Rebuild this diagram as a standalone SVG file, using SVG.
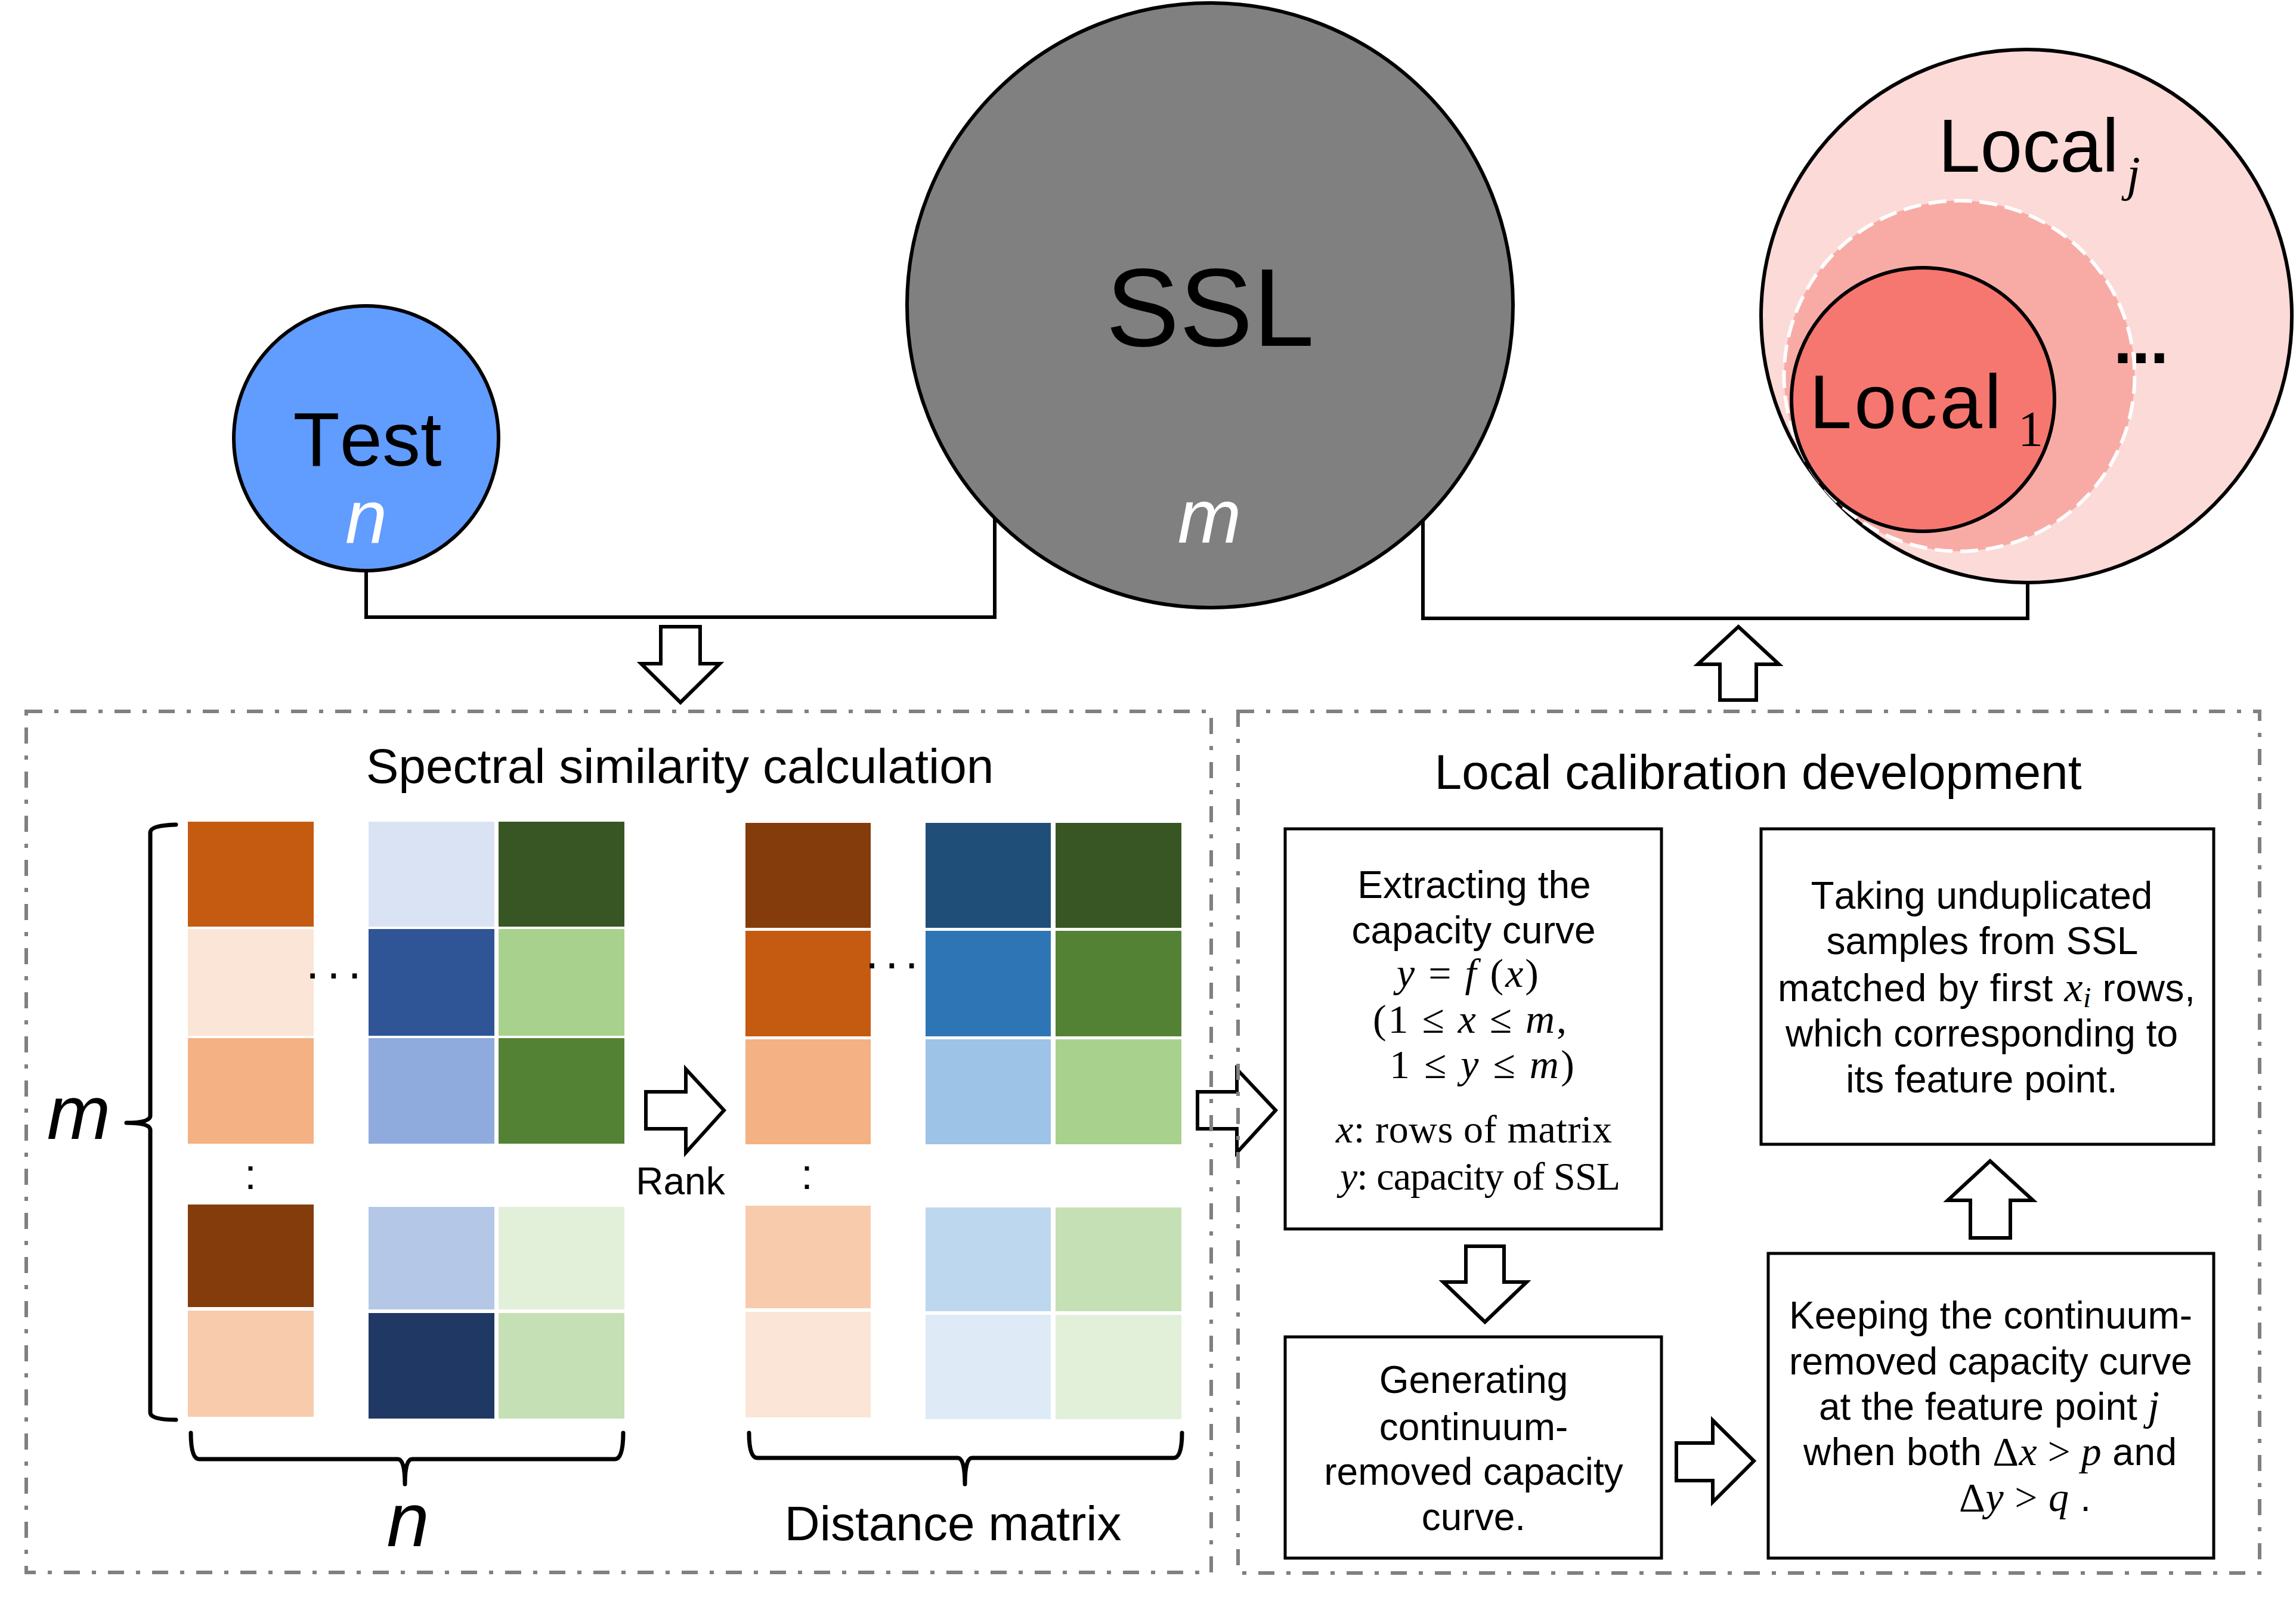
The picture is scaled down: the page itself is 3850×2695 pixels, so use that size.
<svg xmlns="http://www.w3.org/2000/svg" width="3850" height="2695" viewBox="0 0 3850 2695">
<style>
text{font-kerning:none}
.sans{font-family:"Liberation Sans",Arial,Helvetica,sans-serif;fill:#000}
.ser{font-family:"Liberation Serif","Times New Roman",serif;fill:#000}
.it{font-style:italic}
.c{text-anchor:middle}
.line{fill:none;stroke:#000;stroke-width:6}
.barrow{fill:#fff;stroke:#000;stroke-width:6;stroke-linejoin:miter}
.brace{fill:none;stroke:#000;stroke-width:7;stroke-linecap:round;stroke-linejoin:round}
.dbox{fill:none;stroke:#808080;stroke-width:6;stroke-dasharray:27 20 7 20}
.box{fill:#fff;stroke:#000;stroke-width:5}
.bt{font-size:64px}
</style>
<rect width="3850" height="2695" fill="#fff"/>

<g id="connectors">
<polyline class="line" points="614,955 614,1035 1668,1035 1668,860"/>
<polyline class="line" points="2386,860 2386,1037 3400,1037 3400,975"/>
<path class="barrow" d="M1108,1051 L1174,1051 L1174,1113 L1207,1113 L1141,1178 L1075,1113 L1108,1113 Z"/>
<path class="barrow" d="M2915,1051 L2983,1114 L2945,1114 L2945,1174 L2884,1174 L2884,1114 L2847,1114 Z"/>
<path class="barrow" d="M1083,1831 L1150,1831 L1150,1793 L1214,1862 L1150,1933 L1150,1893 L1083,1893 Z"/>
<path class="barrow" d="M2008,1831 L2074,1831 L2074,1793 L2139,1862 L2074,1933 L2074,1893 L2008,1893 Z"/>
<path class="barrow" d="M2458,2090 L2522,2090 L2522,2150 L2560,2150 L2490,2217 L2420,2150 L2458,2150 Z"/>
<path class="barrow" d="M2811,2420 L2872,2420 L2872,2382 L2941,2450 L2872,2519 L2872,2483 L2811,2483 Z"/>
<path class="barrow" d="M3337,1947 L3409,2013 L3371,2013 L3371,2076 L3304,2076 L3304,2013 L3266,2013 Z"/>
</g>

<g id="test">
<circle cx="614" cy="735" r="222" fill="#619CFF" stroke="#000" stroke-width="6"/>
<text class="sans c" x="616" y="781" font-size="128">Test</text>
<text class="sans c it" x="614" y="910" font-size="126" style="fill:#fff">n</text>
</g>

<g id="ssl">
<ellipse cx="2029" cy="512" rx="508" ry="507" fill="#808080" stroke="#000" stroke-width="6"/>
<text class="sans c" x="2029" y="580" font-size="185">SSL</text>
<text class="sans c it" x="2028" y="910" font-size="128" style="fill:#fff">m</text>
</g>

<g id="local">
<ellipse cx="3398" cy="530" rx="445" ry="447" fill="#FBDAD7" stroke="#000" stroke-width="6"/>
<circle cx="3285.5" cy="630.5" r="294" fill="#F8ABA5" stroke="#fff" stroke-width="6" stroke-dasharray="30 13"/>
<ellipse cx="3224.5" cy="670" rx="220.5" ry="221" fill="#F6776F" stroke="#000" stroke-width="6"/>
<text class="sans" x="3250" y="288" font-size="127" textLength="303">Local</text>
<text class="ser it" x="3566" y="319" font-size="82">j</text>
<text class="sans" x="3034" y="718" font-size="128" textLength="322">Local</text>
<text class="ser" x="3384" y="748" font-size="84">1</text>
<text class="sans" x="3544" y="609" font-size="112" font-weight="bold" letter-spacing="-0.5">...</text>
</g>

<g id="spectral">
<rect class="dbox" x="44" y="1193" width="1987" height="1444"/>
<text class="sans c" x="1140" y="1313" font-size="82">Spectral similarity calculation</text>
<path class="brace" d="M295,1383 Q252,1384 252,1396 L252,1871 Q252,1883 212,1883 Q252,1883 252,1895 L252,2369 Q252,2381 295,2381"/>
<text class="sans c it" x="132" y="1910" font-size="128">m</text>
<g id="matrix-left">
<rect x="315" y="1378" width="211" height="176" fill="#C55A11"/>
<rect x="315" y="1558" width="211" height="179" fill="#FBE5D6"/>
<rect x="315" y="1741" width="211" height="177" fill="#F4B183"/>
<rect x="315" y="2020" width="211" height="172" fill="#843C0C"/>
<rect x="315" y="2198" width="211" height="178" fill="#F8CBAD"/>
<rect x="618" y="1378" width="211" height="176" fill="#DAE3F3"/>
<rect x="618" y="1558" width="211" height="179" fill="#2F5597"/>
<rect x="618" y="1741" width="211" height="177" fill="#8FAADC"/>
<rect x="618" y="2024" width="211" height="172" fill="#B4C7E7"/>
<rect x="618" y="2202" width="211" height="177" fill="#203864"/>
<rect x="836" y="1378" width="211" height="176" fill="#375623"/>
<rect x="836" y="1558" width="211" height="179" fill="#A9D18E"/>
<rect x="836" y="1741" width="211" height="177" fill="#548235"/>
<rect x="836" y="2024" width="211" height="172" fill="#E2F0D9"/>
<rect x="836" y="2202" width="211" height="177" fill="#C5E0B4"/>
<text class="sans" x="513" y="1641" font-size="80" letter-spacing="13">...</text>
<text class="sans c" x="420" y="1994" font-size="72">:</text>
</g>
<path class="brace" d="M320,2403 Q320,2447 334,2447 L667,2447 Q679,2447 679,2489 Q679,2447 691,2447 L1031,2447 Q1045,2447 1045,2403"/>
<text class="sans c it" x="684" y="2593" font-size="128">n</text>
<text class="sans c" x="1141" y="2003" font-size="64">Rank</text>
<g id="matrix-right">
<rect x="1250" y="1380" width="210" height="176" fill="#843C0C"/>
<rect x="1250" y="1561" width="210" height="177" fill="#C55A11"/>
<rect x="1250" y="1743" width="210" height="176" fill="#F4B183"/>
<rect x="1250" y="2022" width="210" height="172" fill="#F8CBAD"/>
<rect x="1250" y="2200" width="210" height="177" fill="#FBE5D6"/>
<rect x="1552" y="1380" width="210" height="176" fill="#1F4E79"/>
<rect x="1552" y="1561" width="210" height="177" fill="#2E75B6"/>
<rect x="1552" y="1743" width="210" height="176" fill="#9DC3E6"/>
<rect x="1552" y="2025" width="210" height="174" fill="#BDD7EE"/>
<rect x="1552" y="2205" width="210" height="175" fill="#DEEBF7"/>
<rect x="1770" y="1380" width="211" height="176" fill="#375623"/>
<rect x="1770" y="1561" width="211" height="177" fill="#548235"/>
<rect x="1770" y="1743" width="211" height="176" fill="#A9D18E"/>
<rect x="1770" y="2025" width="211" height="174" fill="#C5E0B4"/>
<rect x="1770" y="2205" width="211" height="175" fill="#E2F0D9"/>
<text class="sans" x="1451" y="1624" font-size="80" letter-spacing="11">...</text>
<text class="sans c" x="1353" y="1994" font-size="72">:</text>
</g>
<path class="brace" d="M1256,2403 Q1256,2445 1270,2445 L1606,2445 Q1618,2445 1618,2489 Q1618,2445 1630,2445 L1968,2445 Q1982,2445 1982,2403"/>
<text class="sans c" x="1598" y="2583" font-size="82">Distance matrix</text>
</g>

<g id="local-calibration">
<rect class="dbox" x="2076" y="1193" width="1713" height="1445"/>
<text class="sans c" x="2948" y="1323" font-size="82">Local calibration development</text>
</g>

<g id="box-extract">
<rect class="box" x="2155" y="1390" width="631" height="671"/>
<text class="sans c bt" x="2472" y="1506">Extracting the</text>
<text class="sans c bt" x="2471" y="1582">capacity curve</text>
<text class="ser" font-size="68" x="2342" y="1655" textLength="238"><tspan class="it">y</tspan> = <tspan class="it">f</tspan> (<tspan class="it">x</tspan>)</text>
<text class="ser" font-size="68" x="2302" y="1732" textLength="325">(1 ≤ <tspan class="it">x</tspan> ≤ <tspan class="it">m</tspan>,</text>
<text class="ser" font-size="68" x="2330" y="1808" textLength="310">1 ≤ <tspan class="it">y</tspan> ≤ <tspan class="it">m</tspan>)</text>
<text class="ser" font-size="66" x="2240" y="1916" textLength="463"><tspan class="it">x</tspan>: rows of matrix</text>
<text class="ser" font-size="66" x="2247" y="1995" textLength="470"><tspan class="it">y</tspan>: capacity of SSL</text>
</g>

<g id="box-generate">
<rect class="box" x="2155" y="2242" width="631" height="371"/>
<text class="sans c bt" x="2471" y="2336">Generating</text>
<text class="sans c bt" x="2471" y="2415">continuum-</text>
<text class="sans c bt" x="2471" y="2490">removed capacity</text>
<text class="sans c bt" x="2471" y="2566">curve.</text>
</g>

<g id="box-taking">
<rect class="box" x="2953" y="1390" width="759" height="529"/>
<text class="sans c bt" x="3323" y="1524">Taking unduplicated</text>
<text class="sans c bt" x="3324" y="1600">samples from SSL</text>
<text class="sans bt" x="2981" y="1679" textLength="700">matched by first <tspan class="ser it" font-size="70">x</tspan><tspan class="ser it" font-size="48" dy="10">i</tspan><tspan dy="-10"> rows,</tspan></text>
<text class="sans c bt" x="3323" y="1755">which corresponding to</text>
<text class="sans c bt" x="3323" y="1832">its feature point.</text>
</g>

<g id="box-keeping">
<rect class="box" x="2965" y="2102" width="747" height="511"/>
<text class="sans c bt" x="3338" y="2228">Keeping the continuum-</text>
<text class="sans c bt" x="3338" y="2305">removed capacity curve</text>
<text class="sans bt" x="3050" y="2381" textLength="571">at the feature point <tspan class="ser it" font-size="70">j</tspan></text>
<text class="sans bt" x="3024" y="2457" textLength="626">when both <tspan class="ser" font-size="68">Δ</tspan><tspan class="ser it" font-size="68">x</tspan><tspan class="ser" font-size="68"> &gt; </tspan><tspan class="ser it" font-size="68">p</tspan> and</text>
<text class="sans bt" x="3285" y="2534" textLength="221"><tspan class="ser" font-size="68">Δ</tspan><tspan class="ser it" font-size="68">y</tspan><tspan class="ser" font-size="68"> &gt; </tspan><tspan class="ser it" font-size="68">q</tspan> .</text>
</g>
</svg>
